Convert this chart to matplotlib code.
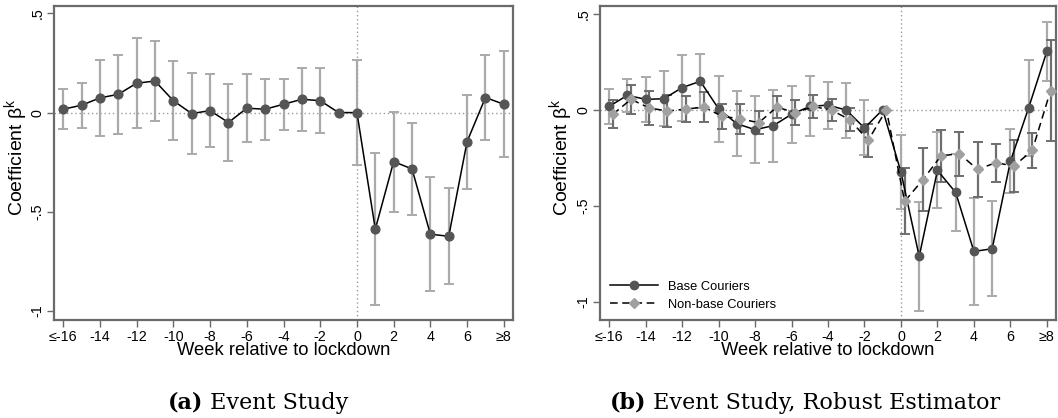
import matplotlib
matplotlib.use("Agg")
import matplotlib.pyplot as plt
from matplotlib.offsetbox import TextArea, HPacker, AnchoredOffsetbox
import numpy as np

# ---------------- data ----------------
weeks = list(range(-16, 9))
xtick_pos = list(range(-16, 9, 2))
xtick_labels = ["≤-16", "-14", "-12", "-10", "-8", "-6", "-4", "-2", "0", "2", "4", "6", "≥8"]
ytick_pos = [0.5, 0.0, -0.5, -1.0]
ytick_labels = [".5", "0", "-.5", "-1"]

# Panel (a): event study
coef_a = [0.017, 0.037, 0.074, 0.092, 0.148, 0.159, 0.060, -0.005, 0.010, -0.050,
          0.022, 0.017, 0.042, 0.067, 0.060, 0.0, 0.0, -0.587, -0.247, -0.284,
          -0.613, -0.623, -0.146, 0.076, 0.042]
ci_a = [0.101, 0.114, 0.190, 0.200, 0.228, 0.203, 0.200, 0.205, 0.185, 0.195,
        0.170, 0.154, 0.129, 0.158, 0.165, 0.0, 0.263, 0.381, 0.252, 0.233,
        0.287, 0.242, 0.237, 0.215, 0.267]

# Panel (b): robust estimator
coef_base = [0.017, 0.075, 0.054, 0.057, 0.115, 0.148, 0.005, -0.073, -0.104, -0.083,
             -0.024, 0.017, 0.024, -0.002, -0.095, 0.0, -0.325, -0.764, -0.316, -0.431,
             -0.738, -0.724, -0.269, 0.010, 0.304]
ci_base = [0.092, 0.085, 0.116, 0.142, 0.172, 0.141, 0.172, 0.170, 0.175, 0.188,
           0.147, 0.156, 0.122, 0.143, 0.143, 0.0, 0.191, 0.286, 0.198, 0.198,
           0.280, 0.248, 0.167, 0.250, 0.155]
coef_nonbase = [-0.024, 0.054, 0.009, -0.007, 0.003, 0.014, -0.035, -0.047, -0.068, 0.014,
                -0.016, 0.017, -0.003, -0.052, -0.160, 0.0, -0.477, -0.365, -0.240, -0.229,
                -0.311, -0.276, -0.293, -0.212, 0.099]
ci_nonbase = [0.073, 0.076, 0.090, 0.085, 0.068, 0.078, 0.066, 0.078, 0.061, 0.057,
              0.064, 0.060, 0.057, 0.060, 0.085, 0.0, 0.171, 0.164, 0.136, 0.115,
              0.142, 0.100, 0.134, 0.093, 0.262]

series_names = ["Base Couriers", "Non-base Couriers"]
captions = [("(a)", "Event Study"), ("(b)", "Event Study, Robust Estimator")]

# ---------------- style ----------------
plt.rcParams["font.family"] = ["Liberation Sans", "DejaVu Sans"]
W, H = 1058, 418
fig = plt.figure(figsize=(W / 100, H / 100), dpi=100)

def px_axes(l, t, r, b):
    return fig.add_axes([l / W, 1 - b / H, (r - l) / W, (b - t) / H])

ax1 = px_axes(54, 6, 513, 320)
ax2 = px_axes(600, 6, 1056, 320)

LIGHT = "#aaaaaa"
DARK = "#6e6e6e"
MARK = "#555555"
FRAME = "#6a6a6a"

def style(ax, ylim, label_x):
    ax.set_xlim(-16.5, 8.5)
    ax.set_ylim(*ylim)
    ax.axhline(0, color="#9a9a9a", lw=1.0, ls=(0, (1, 2)), zorder=0)
    ax.axvline(0, color="#9a9a9a", lw=1.0, ls=(0, (1, 2)), zorder=0)
    ax.set_xticks(xtick_pos)
    ax.set_xticklabels(xtick_labels, fontsize=10.3)
    ax.set_yticks(ytick_pos)
    ax.set_yticklabels(ytick_labels, fontsize=10.3, rotation=90, va="center")
    ax.tick_params(direction="out", length=5, width=1, color=FRAME, pad=2)
    for s in ax.spines.values():
        s.set_color(FRAME)
        s.set_linewidth(1.6)
    ax.set_xlabel("Week relative to lockdown", fontsize=13.2, labelpad=-1)
    ax.set_ylabel("Coefficient β$^{\\mathregular{k}}$", fontsize=14)
    ax.yaxis.set_label_coords(label_x, 0.52)

def draw_ci(ax, x, y, e, color, offset=0.0):
    x = np.asarray(x, float) + offset
    y = np.asarray(y, float)
    e = np.asarray(e, float)
    m = e > 0
    ax.errorbar(x[m], y[m], yerr=e[m], fmt="none", ecolor=color, elinewidth=1.6,
                capsize=3.5, capthick=1.4, zorder=2)

# Panel (a)
style(ax1, (-1.045, 0.537), (31 - 54) / 459)
draw_ci(ax1, weeks, coef_a, ci_a, LIGHT)
ax1.plot(weeks, coef_a, color="black", lw=1.1, marker="o", ms=6.3,
         mfc=MARK, mec=MARK, zorder=3)

# Panel (b)
style(ax2, (-1.095, 0.54), (576 - 600) / 456)
draw_ci(ax2, weeks, coef_base, ci_base, LIGHT)
draw_ci(ax2, weeks, coef_nonbase, ci_nonbase, DARK, offset=0.2)
ax2.plot(weeks, coef_base, color="black", lw=1.1, marker="o", ms=6,
         mfc=MARK, mec=MARK, zorder=3, label=series_names[0])
ax2.plot(np.asarray(weeks) + 0.2, coef_nonbase, color="black", lw=1.1, ls=(0, (5, 3)),
         marker="D", ms=5.5, mfc="#a0a0a0", mec="#a0a0a0", zorder=3, label=series_names[1])
ax2.legend(loc="lower left", frameon=False, fontsize=9.3, handlelength=3.7,
           handletextpad=0.8, labelspacing=0.45, borderpad=0, borderaxespad=0,
           bbox_to_anchor=(0.022, 0.03))

# Captions: bold tag + regular text
for (tag, txt), cx in zip(captions, [258, 805]):
    a = TextArea(tag, textprops=dict(fontsize=16, fontweight="bold", family="DejaVu Serif"))
    b = TextArea(" " + txt, textprops=dict(fontsize=16, family="DejaVu Serif"))
    box = HPacker(children=[a, b], align="baseline", pad=0, sep=0)
    ab = AnchoredOffsetbox(loc="center", child=box, frameon=False,
                           bbox_to_anchor=(cx / W, 1 - 403 / H),
                           bbox_transform=fig.transFigure, borderpad=0, pad=0)
    fig.add_artist(ab)

fig.savefig("out.png", dpi=100)
